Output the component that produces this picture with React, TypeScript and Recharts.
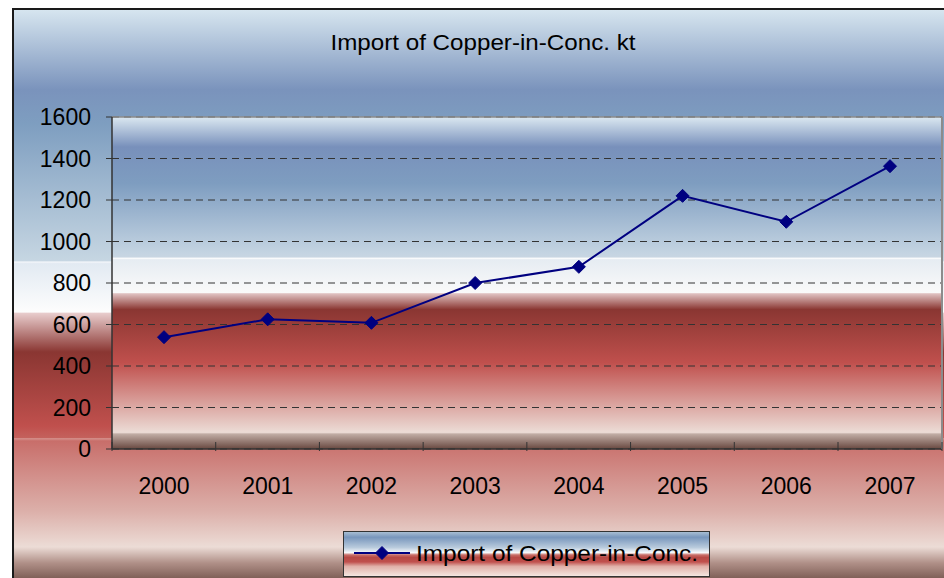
import * as React from "react"
import {
  LineChart,
  Line,
  XAxis,
  YAxis,
  CartesianGrid,
  Legend,
} from "recharts"

// ── Data ──────────────────────────────────────────────────────────────
const years = ["2000", "2001", "2002", "2003", "2004", "2005", "2006", "2007"]
const importKt = [539, 625, 608, 800, 878, 1220, 1095, 1363]
const yTicks = [0, 200, 400, 600, 800, 1000, 1200, 1400, 1600]

const seriesName = "Import of Copper-in-Conc."
const chartTitle = "Import of Copper-in-Conc. kt"

const chartData = years.map((year, i) => ({ year, value: importKt[i] }))

// ── Styles ────────────────────────────────────────────────────────────
const FONT = "'Liberation Sans', Arial, Helvetica, sans-serif"
const NAVY = "#000080"
const HALF_BAND = 52

const plotStops: [number, string][] = [
  [0, "#dbe8f1"],
  [0.09, "#7890bb"],
  [0.2, "#7e9dc0"],
  [0.41, "#c4d4e2"],
  [0.422, "#c8d6e2"],
  [0.425, "#ffffff"],
  [0.43, "#e6ecf2"],
  [0.53, "#fafafa"],
  [0.532, "#e0c2c2"],
  [0.58, "#8a3632"],
  [0.74, "#c0504d"],
  [0.95, "#ecdcd6"],
  [0.955, "#c0aca4"],
  [1, "#684840"],
]

const outerGradient =
  "linear-gradient(180deg, #d6e5ef 0%, #7a93bc 14%, #7e9ec0 20%, #c6d6e2 44%, #f4f7fa 44.2%, #e2eaf2 44.5%, #fdfdfd 53%, #e8cccc 53.2%, #8a3632 60%, #c0504d 73%, #c4615c 75%, #d4908b 75.2%, #c86e6a 75.6%, #d49590 82.8%, #dcb0aa 88%, #ecdcd6 94.2%, #b09088 97%, #7a5a52 100%)"

const legendGradient =
  "linear-gradient(180deg, #a8bed4 0%, #7896bc 12%, #b8cadc 35%, #f8fafc 47%, #c86e68 52%, #b84a46 58%, #c0504d 68%, #e0b0a8 78%, #f4e6e0 100%)"

// ── Pieces ────────────────────────────────────────────────────────────
function Diamond(props: any) {
  const { cx, cy } = props
  if (cx == null || cy == null) return null
  const s = 6.5
  return (
    <path
      d={`M${cx},${cy - s} L${cx + s},${cy} L${cx},${cy + s} L${cx - s},${cy} Z`}
      fill={NAVY}
      stroke={NAVY}
    />
  )
}

function YearTick(props: any) {
  const { x, y, payload, index } = props
  const last = index === years.length - 1
  return (
    <g>
      <line x1={x - HALF_BAND} y1={y - 9} x2={x - HALF_BAND} y2={y} stroke="#333" />
      {last && <line x1={x + HALF_BAND} y1={y - 9} x2={x + HALF_BAND} y2={y} stroke="#333" />}
      <text
        x={x}
        y={y + 43}
        textAnchor="middle"
        fontSize={23}
        fontFamily={FONT}
        fill="#000"
      >
        {payload.value}
      </text>
    </g>
  )
}

function LegendBox() {
  return (
    <div
      style={{
        width: 365,
        height: 44,
        border: "1px solid #333",
        background: legendGradient,
      }}
    >
      <svg width={365} height={44} style={{ display: "block" }}>
        <line x1={10} y1={21} x2={66} y2={21} stroke={NAVY} strokeWidth={2} />
        <Diamond cx={38} cy={21} />
        <text
          x={72}
          y={29}
          fontSize={22}
          fontFamily={FONT}
          fill="#000"
          textLength={282}
          lengthAdjust="spacingAndGlyphs"
        >
          {seriesName}
        </text>
      </svg>
    </div>
  )
}

// ── Component ─────────────────────────────────────────────────────────
export default function App() {
  return (
    <div
      style={{
        position: "absolute",
        left: 0,
        top: 0,
        width: 944,
        height: 578,
        overflow: "hidden",
        background: "#fff",
      }}
    >
      <div
        style={{
          position: "absolute",
          left: 12,
          top: 8,
          width: 940,
          height: 570,
          borderLeft: "2px solid #1a1a1a",
          borderTop: "2px solid #1a1a1a",
          background: outerGradient,
        }}
      />
      <svg
        width={944}
        height={80}
        style={{ position: "absolute", left: 0, top: 0 }}
      >
        <text
          x={483}
          y={50}
          textAnchor="middle"
          fontSize={22}
          fontFamily={FONT}
          fill="#000"
          textLength={305}
          lengthAdjust="spacingAndGlyphs"
        >
          {chartTitle}
        </text>
      </svg>
      <div style={{ position: "absolute", left: 0, top: 0 }}>
        <LineChart
          width={944}
          height={578}
          data={chartData}
          margin={{ top: 116, right: 0, bottom: 23, left: 0 }}
        >
          <defs>
            <linearGradient id="plotFill" x1="0" y1="0" x2="0" y2="1">
              {plotStops.map(([o, c]) => (
                <stop key={o} offset={o} stopColor={c} />
              ))}
            </linearGradient>
          </defs>
          <CartesianGrid
            vertical={false}
            fill="url(#plotFill)"
            fillOpacity={1}
            stroke="#333"
            strokeDasharray="7 5"
          />
          <XAxis
            dataKey="year"
            padding={{ left: HALF_BAND, right: HALF_BAND }}
            height={60}
            axisLine={{ stroke: "#333", strokeWidth: 1.5 }}
            tickLine={false}
            tickSize={0}
            tick={<YearTick />}
            interval={0}
          />
          <XAxis
            xAxisId="top"
            dataKey="year"
            orientation="top"
            height={1}
            axisLine={{ stroke: "#8c8c8c", strokeWidth: 1.5 }}
            tick={false}
            tickLine={false}
          />
          <YAxis
            width={112}
            domain={[0, 1600]}
            ticks={yTicks}
            interval={0}
            axisLine={{ stroke: "#333", strokeWidth: 1.5 }}
            tickLine={{ stroke: "#333" }}
            tickSize={6}
            tickMargin={15}
            tick={{ fontSize: 23, fontFamily: FONT, fill: "#000" }}
          />
          <YAxis
            yAxisId="r"
            orientation="right"
            width={2}
            domain={[0, 1600]}
            axisLine={{ stroke: "#8c8c8c", strokeWidth: 2 }}
            tick={false}
            tickLine={false}
          />
          <Legend
            verticalAlign="bottom"
            content={() => <LegendBox />}
            wrapperStyle={{ left: 343, top: 531, bottom: "auto", width: 367 }}
          />
          <Line
            type="linear"
            dataKey="value"
            name={seriesName}
            stroke={NAVY}
            strokeWidth={2}
            dot={<Diamond />}
            activeDot={false}
            isAnimationActive={false}
          />
        </LineChart>
      </div>
    </div>
  )
}
